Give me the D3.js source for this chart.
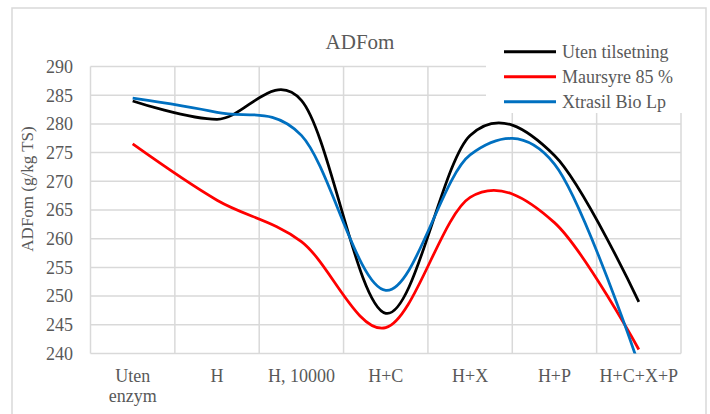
<!DOCTYPE html>
<html>
<head>
<meta charset="utf-8">
<script src="https://cdn.jsdelivr.net/npm/d3@7"></script>
<style>
  html, body { margin: 0; padding: 0; background: #fff; }
  svg text { font-family: "Liberation Serif", "Times New Roman", serif; fill: #595959; }
</style>
</head>
<body>
<svg id="chart" width="710" height="414"></svg>
<script>
/* ── Data ─────────────────────────────────────────────── */
const categories = ['Uten enzym', 'H', 'H, 10000', 'H+C', 'H+X', 'H+P', 'H+C+X+P'];
const utenTilsetning = [284.0, 280.8, 284.1, 247.0, 278.0, 274.5, 249.0];
const maursyre       = [276.5, 266.7, 259.5, 244.5, 267.2, 262.8, 240.7];
const xtrasil        = [284.5, 282.0, 278.0, 251.0, 274.6, 273.0, 238.0];
const yTicks = [240, 245, 250, 255, 260, 265, 270, 275, 280, 285, 290];

const series = [
  { name: 'Uten tilsetning', values: utenTilsetning, color: '#000000' },
  { name: 'Maursyre 85 %',   values: maursyre,       color: '#ff0000' },
  { name: 'Xtrasil Bio Lp',  values: xtrasil,        color: '#0070c0' },
];

/* ── Layout ───────────────────────────────────────────── */
const plot = { left: 90.5, right: 681, top: 66.5, bottom: 353.5 };
const gridColor = '#d9d9d9';

const svg = d3.select('#chart');

// outer chart frame
svg.append('rect')
  .attr('x', 12).attr('y', 8)
  .attr('width', 694).attr('height', 420)
  .attr('fill', '#fff')
  .attr('stroke', gridColor).attr('stroke-width', 1.5);

const x = d3.scaleBand().domain(categories).range([plot.left, plot.right]);
const y = d3.scaleLinear().domain([240, 290]).range([plot.bottom, plot.top]);
const cx = c => x(c) + x.bandwidth() / 2;

/* ── Grid ─────────────────────────────────────────────── */
const grid = svg.append('g');
grid.selectAll('line.h')
  .data(yTicks).join('line')
  .attr('x1', plot.left).attr('x2', plot.right)
  .attr('y1', d => y(d)).attr('y2', d => y(d))
  .attr('stroke', gridColor).attr('stroke-width', 1.5);

const bounds = categories.map(c => x(c)).concat([plot.right]);
grid.selectAll('line.v')
  .data(bounds).join('line')
  .attr('x1', d => d).attr('x2', d => d)
  .attr('y1', plot.top).attr('y2', plot.bottom)
  .attr('stroke', gridColor).attr('stroke-width', 1.5);

/* ── Axes labels ──────────────────────────────────────── */
svg.append('g')
  .selectAll('text')
  .data(yTicks).join('text')
  .attr('x', 73).attr('y', d => y(d))
  .attr('dy', '0.35em')
  .attr('text-anchor', 'end')
  .style('font-size', '18px')
  .text(d => d);

const xl = svg.append('g')
  .selectAll('text')
  .data(categories).join('text')
  .attr('x', d => cx(d))
  .attr('y', 382)
  .attr('text-anchor', 'middle')
  .style('font-size', '18px')
  .text(d => d);

// wrap labels wider than their band
xl.each(function(d) {
  const t = d3.select(this);
  if (this.getComputedTextLength() <= x.bandwidth()) return;
  const words = d.split(' ');
  t.text(null);
  words.forEach((w, i) => {
    t.append('tspan').attr('x', cx(d)).attr('dy', i ? 20 : 0).text(w);
  });
});

svg.append('text')
  .attr('transform', 'translate(33,189) rotate(-90)')
  .attr('text-anchor', 'middle')
  .style('font-size', '17px')
  .text('ADFom  (g/kg TS)');

svg.append('text')
  .attr('x', 360).attr('y', 49)
  .attr('text-anchor', 'middle')
  .style('font-size', '21px')
  .text('ADFom');

/* ── Lines ────────────────────────────────────────────── */
svg.append('clipPath').attr('id', 'plot-clip')
  .append('rect')
  .attr('x', plot.left - 5).attr('y', plot.top - 5)
  .attr('width', plot.right - plot.left + 10)
  .attr('height', plot.bottom - plot.top + 5);

const line = d3.line()
  .x((d, i) => cx(categories[i]))
  .y(d => y(d))
  .curve(d3.curveCardinal.tension(0));

svg.append('g').attr('clip-path', 'url(#plot-clip)')
  .selectAll('path')
  .data(series).join('path')
  .attr('d', d => line(d.values))
  .attr('fill', 'none')
  .attr('stroke', d => d.color)
  .attr('stroke-width', 2.75)
  .attr('stroke-linejoin', 'round');

/* ── Legend ───────────────────────────────────────────── */
const lg = svg.append('g');
lg.append('rect')
  .attr('x', 486).attr('y', 34)
  .attr('width', 198).attr('height', 79)
  .attr('fill', '#fff');

const item = lg.selectAll('g')
  .data(series).join('g')
  .attr('transform', (d, i) => `translate(0,${51.7 + i * 25})`);

item.append('line')
  .attr('x1', 504).attr('x2', 556)
  .attr('stroke', d => d.color).attr('stroke-width', 3);

item.append('text')
  .attr('x', 562).attr('dy', '0.35em')
  .style('font-size', '18px')
  .text(d => d.name);
</script>
</body>
</html>
